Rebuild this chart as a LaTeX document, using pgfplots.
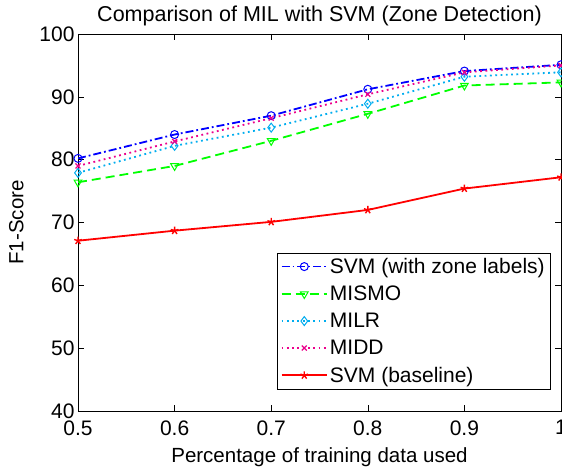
\documentclass[border=0pt]{standalone}
\usepackage{fontspec}
\setmainfont{Liberation Sans}
\usepackage{pgfplots}
\pgfplotsset{compat=1.18}

\begin{document}
\begin{tikzpicture}
\begin{axis}[
    scale only axis,
    width=483pt, height=377pt,
    xmin=0.5, xmax=1, ymin=40, ymax=100,
    xtick={0.5,0.6,0.7,0.8,0.9,1},
    xticklabels={0.5,0.6,0.7,0.8,0.9,1},
    ytick={40,50,60,70,80,90,100},
    tick align=inside,
    major tick length=6pt,
    tick style={black, line width=0.6pt},
    axis line style={line width=0.8pt},
    /pgf/number format/assume math mode=true,
    tick label style={font=\fontsize{21}{23}\selectfont},
    xticklabel style={yshift=-6pt},
    label style={font=\fontsize{20.5}{22}\selectfont},
    title style={font=\fontsize{21.5}{23}\selectfont, yshift=-1pt},
    title={Comparison of MIL with SVM (Zone Detection)},
    xlabel={Percentage of training data used},
    ylabel={F1-Score},
    xlabel style={yshift=-5pt},
    ylabel style={yshift=9pt},
    legend style={at={(0.977,0.419)}, anchor=north east,
        font=\fontsize{21}{23}\selectfont, draw=black,
        inner sep=3pt, row sep=7pt},
    legend cell align=left,
    legend image code/.code={
        \draw[line width=1.8pt, mark repeat=2, mark phase=2, #1] plot coordinates {(0cm,0cm) (0.8cm,0cm) (1.6cm,0cm)};},
]
\addplot[color=blue, line width=1.8pt, dash pattern=on 8pt off 3pt on 1.8pt off 3pt,
    mark=o, mark size=4pt, mark options={solid, line width=1pt}] coordinates {
(0.5,80.2) (0.6,84.0) (0.7,87.0) (0.8,91.2) (0.9,94.1) (1.0,95.1)
};
\addlegendentry{SVM (with zone labels)}

\addplot[color=green, line width=1.8pt, dash pattern=on 9pt off 5pt,
    mark=triangle, mark size=4.5pt, mark options={solid, rotate=180, line width=1pt}] coordinates {
(0.5,76.4) (0.6,79.0) (0.7,83.0) (0.8,87.3) (0.9,91.8) (1.0,92.3)
};
\addlegendentry{MISMO}

\addplot[color=cyan, line width=1.8pt, dash pattern=on 1.8pt off 3.5pt,
    mark=diamond, mark size=4.5pt, mark options={solid, line width=1pt}] coordinates {
(0.5,77.9) (0.6,82.2) (0.7,85.1) (0.8,88.9) (0.9,93.2) (1.0,93.9)
};
\addlegendentry{MILR}

\addplot[color=magenta, line width=1.8pt, dash pattern=on 1.8pt off 3.5pt,
    mark=x, mark size=3.5pt, mark options={solid, line width=1.2pt}] coordinates {
(0.5,79.0) (0.6,82.9) (0.7,86.6) (0.8,90.4) (0.9,93.9) (1.0,95.0)
};
\addlegendentry{MIDD}

\addplot[color=red, line width=1.8pt, solid,
    mark=star, mark size=4pt, mark options={solid, line width=1.4pt}] coordinates {
(0.5,67.1) (0.6,68.7) (0.7,70.1) (0.8,72.0) (0.9,75.4) (1.0,77.2)
};
\addlegendentry{SVM (baseline)}
\end{axis}
\pgfresetboundingbox
\useasboundingbox ([shift={(-78pt,-56pt)}]current axis.south west) rectangle ([shift={(1pt,34pt)}]current axis.north east);
\end{tikzpicture}
\end{document}
